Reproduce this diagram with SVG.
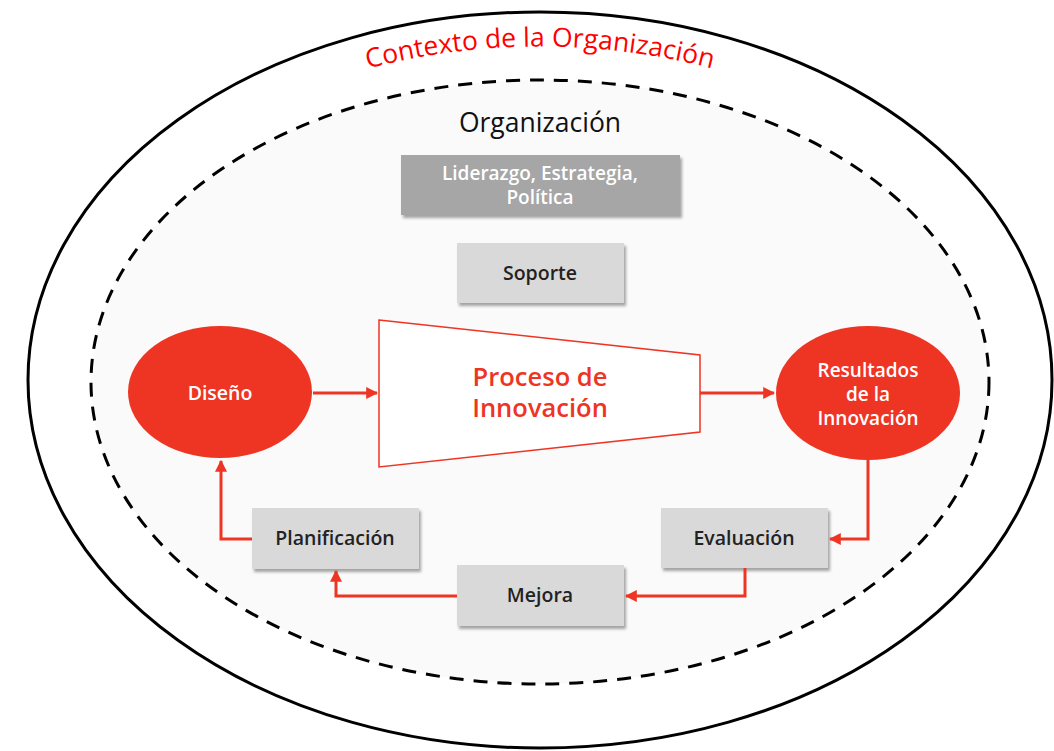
<svg xmlns="http://www.w3.org/2000/svg" width="1054" height="751" viewBox="0 0 1054 751">
<defs>
<style>
.lbl{font-family:"Open Sans","Liberation Sans",sans-serif;font-size:19.5px;font-weight:600;text-anchor:middle}
.sm{font-size:19px}
.dark{fill:#222}
.white{fill:#ffffff}
.box{fill:#d9d9d9}
.conn{fill:none;stroke:#ee3524;stroke-width:3}
.big{font-family:"Open Sans","Liberation Sans",sans-serif;font-size:25.5px;font-weight:600;fill:#ee3524;text-anchor:middle}
</style>
<filter id="sh" x="-10%" y="-10%" width="125%" height="135%">
<feDropShadow dx="2" dy="3" stdDeviation="1.5" flood-color="#000" flood-opacity="0.35"/>
</filter>
<marker id="ah" viewBox="0 0 10 10" refX="9" refY="5" markerWidth="4" markerHeight="4" orient="auto" markerUnits="strokeWidth">
<path d="M0,0 L10,5 L0,10 z" fill="#ee3524"/>
</marker>
<path id="arc" d="M 300,90 A 683 683 0 0 1 780,90"/>
</defs>
<rect width="1054" height="751" fill="#ffffff"/>
<g id="contexto">
<ellipse cx="540" cy="380" rx="512" ry="368" fill="#ffffff" stroke="#000" stroke-width="3"/>
<text font-family="'Open Sans','Liberation Sans',sans-serif" font-size="26.5" fill="#ff0000" text-anchor="middle"><textPath href="#arc" startOffset="50%">Contexto de la Organización</textPath></text>
</g>
<g id="organizacion">
<ellipse cx="540" cy="382" rx="449" ry="302" fill="#fafafa" stroke="#000" stroke-width="3" stroke-dasharray="14 10"/>
<text x="540" y="132" font-family="'Open Sans','Liberation Sans',sans-serif" font-size="26.5" fill="#111" text-anchor="middle">Organización</text>
</g>
<g id="liderazgo">
<rect x="401" y="155" width="279" height="60" fill="#a6a6a6" filter="url(#sh)"/>
<text class="lbl sm white" x="540" y="180">Liderazgo, Estrategia,</text>
<text class="lbl sm white" x="540" y="204">Política</text>
</g>
<g id="soporte">
<rect class="box" x="457" y="243" width="167" height="60" filter="url(#sh)"/>
<text class="lbl dark" x="540" y="280">Soporte</text>
</g>
<g id="diseno">
<ellipse cx="220" cy="392" rx="92" ry="66" fill="#ee3524"/>
<text class="lbl white" x="220" y="400">Diseño</text>
</g>
<g id="proceso">
<polygon points="379,320 700,355 700,432 379,467" fill="#ffffff" stroke="#ee3524" stroke-width="1.5"/>
<text class="big" x="540" y="386">Proceso de</text>
<text class="big" x="540" y="417">Innovación</text>
</g>
<g id="resultados">
<ellipse cx="868" cy="393" rx="92" ry="67" fill="#ee3524"/>
<text class="lbl sm white" x="868" y="377">Resultados</text>
<text class="lbl sm white" x="868" y="401">de la</text>
<text class="lbl sm white" x="868" y="425">Innovación</text>
</g>
<g id="evaluacion">
<rect class="box" x="661" y="508" width="167" height="60" filter="url(#sh)"/>
<text class="lbl dark" x="744" y="545">Evaluación</text>
</g>
<g id="mejora">
<rect class="box" x="457" y="565" width="167" height="61" filter="url(#sh)"/>
<text class="lbl dark" x="540" y="602">Mejora</text>
</g>
<g id="planificacion">
<rect class="box" x="252" y="508" width="167" height="61" filter="url(#sh)"/>
<text class="lbl dark" x="335" y="545">Planificación</text>
</g>
<g id="connectors">
<path class="conn" d="M313,393 H377" marker-end="url(#ah)"/>
<path class="conn" d="M700,393 H774" marker-end="url(#ah)"/>
<path class="conn" d="M868,460 V539 H830" marker-end="url(#ah)"/>
<path class="conn" d="M745,568 V596 H626" marker-end="url(#ah)"/>
<path class="conn" d="M457,596 H336 V571" marker-end="url(#ah)"/>
<path class="conn" d="M252,539 H221 V461" marker-end="url(#ah)"/>
</g>
</svg>
